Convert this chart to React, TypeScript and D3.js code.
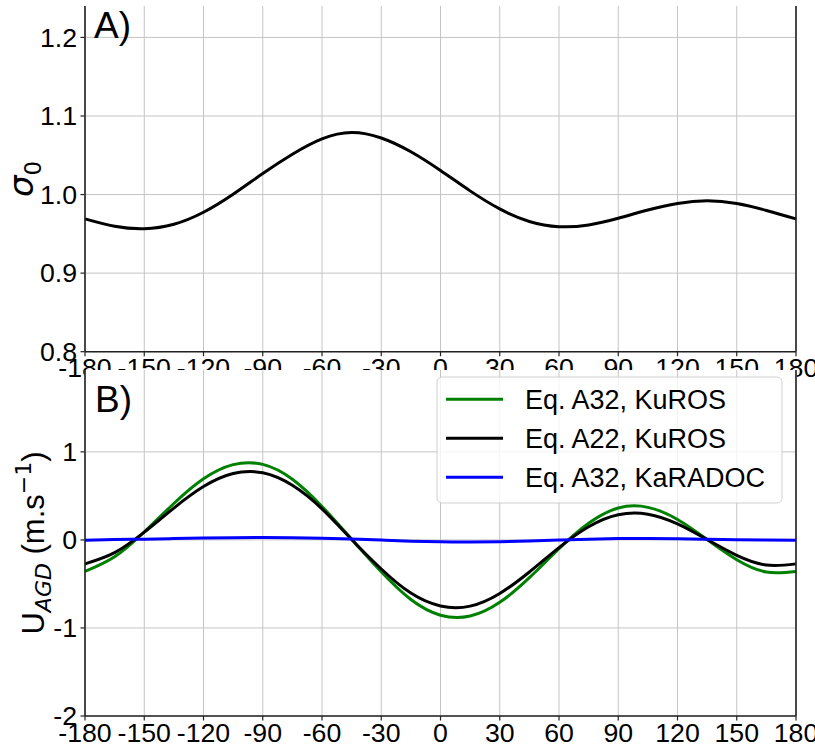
import React from "react";
import * as d3 from "d3";

// angle, every 15 degrees
const angles = [
  -180, -165, -150, -135, -120, -105, -90, -75, -60, -45, -30, -15, 0,
  15, 30, 45, 60, 75, 90, 105, 120, 135, 150, 165, 180,
];

// panel A: sigma0
const sigma0 = [
  0.969, 0.9596, 0.9565, 0.9622, 0.9775, 1.0004, 1.0268, 1.0514, 1.071,
  1.079, 1.072, 1.0545, 1.0307, 1.0047, 0.9817, 0.9657, 0.9591, 0.9613,
  0.9698, 0.9803, 0.9887, 0.992, 0.9886, 0.9798, 0.969,
];

// panel B: U_AGD
const uA32KuROS = [
  -0.358, -0.192, 0.09, 0.414, 0.694, 0.855, 0.858, 0.69, 0.38, 0.008,
  -0.362, -0.677, -0.855, -0.865, -0.709, -0.429, -0.1, 0.189, 0.362, 0.37,
  0.232, 0.004, -0.225, -0.365, -0.358,
];
const uA22KuROS = [
  -0.272, -0.145, 0.088, 0.362, 0.606, 0.754, 0.762, 0.62, 0.352, 0.005,
  -0.33, -0.604, -0.75, -0.752, -0.608, -0.364, -0.087, 0.149, 0.285, 0.292,
  0.182, 0.004, -0.175, -0.285, -0.272,
];
const uA32KaRADOC = [
  -0.003, 0.004, 0.009, 0.015, 0.021, 0.026, 0.028, 0.026, 0.02, 0.01,
  -0.002, -0.014, -0.022, -0.024, -0.02, -0.012, -0.002, 0.008, 0.015,
  0.017, 0.014, 0.008, 0.002, -0.002, -0.003,
];

const xTicks = [-180, -150, -120, -90, -60, -30, 0, 30, 60, 90, 120, 150, 180];
const sigmaTicks = [0.8, 0.9, 1.0, 1.1, 1.2];
const sigmaTickLabels = ["0.8", "0.9", "1.0", "1.1", "1.2"];
const uTicks = [-2, -1, 0, 1];
const uTickLabels = ["-2", "-1", "0", "1"];

const seriesNames = ["Eq. A32, KuROS", "Eq. A22, KuROS", "Eq. A32, KaRADOC"];
const seriesColors = ["#008000", "#000000", "#0000ff"];
const seriesValues = [uA32KuROS, uA22KuROS, uA32KaRADOC];

const W = 815;
const H = 751;
const FONT = "'Liberation Sans', Arial, sans-serif";
const TICK_FS = 26.7;

const left = 85;
const right = 796;
const topA = 6;
const bottomA = 351.7;
const topB = 370;
const bottomB = 716;

export default function App() {
  const x = d3.scaleLinear().domain([-180, 180]).range([left, right]);
  const yA = d3.scaleLinear().domain([0.8, 1.24]).range([bottomA, topA]);
  const yB = d3.scaleLinear().domain([-2, 1.93]).range([bottomB, topB]);

  const lineA = d3
    .line<number>()
    .x((d, i) => x(angles[i]))
    .y((d) => yA(d))
    .curve(d3.curveNatural);
  const lineB = d3
    .line<number>()
    .x((d, i) => x(angles[i]))
    .y((d) => yB(d))
    .curve(d3.curveNatural);

  const grid = "#c4c4c4";
  const spine = "#222";

  const xAxis = (y0: number, y1: number, key: string) => (
    <g key={key}>
      {xTicks.map((t) => (
        <g key={t}>
          <line x1={x(t)} x2={x(t)} y1={y0} y2={y1} stroke={grid} strokeWidth={1} />
          <line x1={x(t)} x2={x(t)} y1={y1} y2={y1 + 4.5} stroke={spine} strokeWidth={1.2} />
          <text
            x={x(t)}
            y={y1 + 25.5}
            textAnchor="middle"
            fontSize={TICK_FS}
            fontFamily={FONT}
          >
            {String(t)}
          </text>
        </g>
      ))}
    </g>
  );

  return (
    <svg
      width={W}
      height={H}
      style={{ position: "absolute", left: 0, top: 0, background: "#fff" }}
    >
      {/* ---------- panel A ---------- */}
      <g>
        {sigmaTicks.map((t, i) => (
          <g key={t}>
            <line x1={left} x2={right} y1={yA(t)} y2={yA(t)} stroke={grid} strokeWidth={1} />
            <line x1={left - 4.5} x2={left} y1={yA(t)} y2={yA(t)} stroke={spine} strokeWidth={1.2} />
            <text
              x={left - 8}
              y={yA(t)}
              dy="0.35em"
              textAnchor="end"
              fontSize={TICK_FS}
              fontFamily={FONT}
            >
              {sigmaTickLabels[i]}
            </text>
          </g>
        ))}
        {xAxis(topA, bottomA, "xa")}
        <path d={lineA(sigma0) || ""} fill="none" stroke="#000" strokeWidth={3} />
        <line x1={left} x2={left} y1={topA} y2={bottomA} stroke={spine} strokeWidth={1.6} />
        <line x1={right} x2={right} y1={topA} y2={bottomA} stroke={spine} strokeWidth={1.6} />
        <line x1={left} x2={right} y1={bottomA} y2={bottomA} stroke={spine} strokeWidth={1.6} />
        <text x={94} y={38} fontSize={37} fontFamily={FONT}>A)</text>
        <text
          transform={`translate(33,${(topA + bottomA) / 2}) rotate(-90)`}
          textAnchor="middle"
          fontSize={34}
          fontFamily="'DejaVu Sans', sans-serif"
        >
          <tspan fontStyle="italic">σ</tspan>
          <tspan fontSize={23} dy={8}>0</tspan>
        </text>
      </g>

      {/* ---------- panel B ---------- */}
      <g>
        <rect x={left} y={topB} width={right - left} height={bottomB - topB} fill="#fff" />
        {uTicks.map((t, i) => (
          <g key={t}>
            <line x1={left} x2={right} y1={yB(t)} y2={yB(t)} stroke={grid} strokeWidth={1} />
            <line x1={left - 4.5} x2={left} y1={yB(t)} y2={yB(t)} stroke={spine} strokeWidth={1.2} />
            <text
              x={left - 8}
              y={yB(t)}
              dy="0.35em"
              textAnchor="end"
              fontSize={TICK_FS}
              fontFamily={FONT}
            >
              {uTickLabels[i]}
            </text>
          </g>
        ))}
        {xAxis(topB, bottomB, "xb")}
        {seriesValues.map((vals, i) => (
          <path
            key={seriesNames[i]}
            d={lineB(vals) || ""}
            fill="none"
            stroke={seriesColors[i]}
            strokeWidth={3}
          />
        ))}
        <line x1={left} x2={left} y1={topB} y2={bottomB} stroke={spine} strokeWidth={1.6} />
        <line x1={right} x2={right} y1={topB} y2={bottomB} stroke={spine} strokeWidth={1.6} />
        <line x1={left} x2={right} y1={bottomB} y2={bottomB} stroke={spine} strokeWidth={1.6} />
        <text x={95} y={412} fontSize={37} fontFamily={FONT}>B)</text>
        <text
          transform={`translate(44,${(topB + bottomB) / 2}) rotate(-90)`}
          textAnchor="middle"
          fontSize={31}
          fontFamily={FONT}
        >
          U
          <tspan fontSize={22} dy={7} fontStyle="italic" fontFamily="'DejaVu Sans', sans-serif">AGD</tspan>
          <tspan dy={-7}> (m.s</tspan>
          <tspan fontSize={22} dy={-13} fontFamily="'DejaVu Sans', sans-serif">−1</tspan>
          <tspan dy={13}>)</tspan>
        </text>

        {/* legend */}
        <g>
          <rect
            x={437}
            y={377}
            width={345}
            height={126}
            rx={5}
            fill="#fff"
            fillOpacity={0.8}
            stroke="#d0d0d0"
            strokeWidth={1}
          />
          {seriesNames.map((name, i) => (
            <g key={name} transform={`translate(0,${399.3 + i * 39})`}>
              <line x1={446} x2={503} y1={0} y2={0} stroke={seriesColors[i]} strokeWidth={3} />
              <text x={525} y={0} dy="0.35em" fontSize={27} fontFamily={FONT}>
                {name}
              </text>
            </g>
          ))}
        </g>
      </g>
    </svg>
  );
}
